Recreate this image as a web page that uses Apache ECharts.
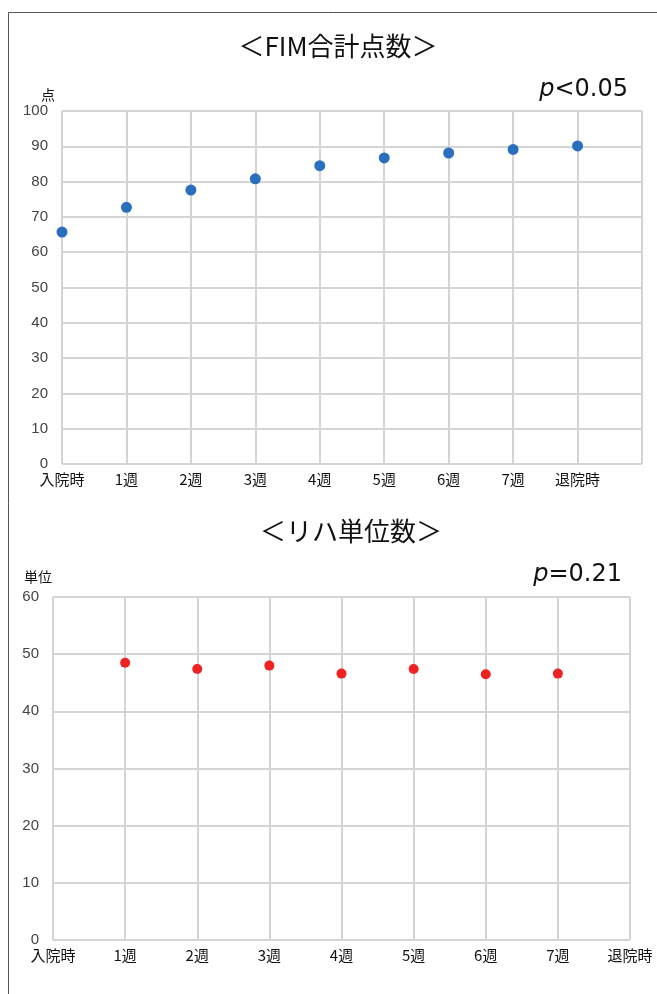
<!DOCTYPE html>
<html>
<head>
<meta charset="utf-8">
<script src="https://cdn.jsdelivr.net/npm/echarts@6/dist/echarts.min.js"></script>
<style>
  html, body { margin: 0; padding: 0; background: #fff; }
  #chart { width: 657px; height: 994px; }
</style>
</head>
<body>
<div id="chart"></div>
<script>
// Time points (admission, weekly, discharge)
const periods = ['入院時', '1週', '2週', '3週', '4週', '5週', '6週', '7週', '退院時'];

// FIM total score at each time point
const fimScores = [65.7, 72.7, 77.6, 80.8, 84.5, 86.7, 88.1, 89.1, 90.1];

// Rehabilitation units per week (no value at admission / discharge)
const rehabUnits = [null, 48.5, 47.4, 48.0, 46.6, 47.4, 46.5, 46.6, null];

// Panel headings and annotations
const fimTitle = '＜FIM合計点数＞';
const rehabTitle = '＜リハ単位数＞';
const fimUnit = '点';
const rehabUnit = '単位';
const fimP = '<0.05';
const rehabP = '=0.21';

const toPoints = vals => vals
  .map((v, i) => (v == null ? null : [i, v]))
  .filter(p => p !== null);

const gridColor = '#d4d4d4';
const cjkFont = '"Noto Sans CJK JP", "Noto Sans", sans-serif';

function xAxisFor(gridIndex, max) {
  return {
    type: 'value', gridIndex, min: 0, max, interval: 1,
    axisLine: { show: false },
    axisTick: { show: false },
    splitLine: { show: true, lineStyle: { color: gridColor, width: 2 } },
    axisLabel: {
      margin: 8,
      color: '#111',
      fontSize: 15,
      fontFamily: cjkFont,
      formatter: v => periods[v] || ''
    }
  };
}

function yAxisFor(gridIndex, max) {
  return {
    type: 'value', gridIndex, min: 0, max, interval: 10,
    axisLine: { show: false },
    axisTick: { show: false },
    splitLine: { show: true, lineStyle: { color: gridColor, width: 2 } },
    axisLabel: {
      margin: 14,
      color: '#444',
      fontSize: 15,
      fontFamily: '"Liberation Sans", Arial, sans-serif'
    }
  };
}

const chart = echarts.init(document.getElementById('chart'), null, { renderer: 'canvas' });

chart.setOption({
  animation: false,
  backgroundColor: '#fff',
  grid: [
    { left: 62, right: 15, top: 111, bottom: 530 },
    { left: 53, right: 27, top: 597, bottom: 54 }
  ],
  xAxis: [xAxisFor(0, 9), xAxisFor(1, 8)],
  yAxis: [yAxisFor(0, 100), yAxisFor(1, 60)],
  series: [
    {
      type: 'scatter', xAxisIndex: 0, yAxisIndex: 0,
      symbolSize: 11,
      itemStyle: { color: '#2a6fbd', opacity: 1 },
      data: toPoints(fimScores)
    },
    {
      type: 'scatter', xAxisIndex: 1, yAxisIndex: 1,
      symbolSize: 10,
      itemStyle: { color: '#ee2222', opacity: 1 },
      data: toPoints(rehabUnits)
    }
  ],
  graphic: [
    {
      type: 'rect', silent: true,
      shape: { x: 8.5, y: 12.5, width: 700, height: 1000 },
      style: { fill: null, stroke: '#555', lineWidth: 1 }
    },
    {
      type: 'text', x: 338, y: 46,
      style: {
        text: fimTitle, fill: '#111', font: '26px ' + cjkFont,
        textAlign: 'center', textVerticalAlign: 'middle'
      }
    },
    {
      type: 'text', x: 351, y: 531,
      style: {
        text: rehabTitle, fill: '#111', font: '26px ' + cjkFont,
        textAlign: 'center', textVerticalAlign: 'middle'
      }
    },
    {
      type: 'text', x: 48, y: 95,
      style: {
        text: fimUnit, fill: '#111', font: '14px ' + cjkFont,
        textAlign: 'center', textVerticalAlign: 'middle'
      }
    },
    {
      type: 'text', x: 38, y: 577,
      style: {
        text: rehabUnit, fill: '#111', font: '14px ' + cjkFont,
        textAlign: 'center', textVerticalAlign: 'middle'
      }
    },
    {
      type: 'text', x: 628, y: 90,
      style: {
        text: '{i|p}' + fimP,
        fill: '#111', font: '24px "DejaVu Sans", sans-serif',
        textAlign: 'right', textVerticalAlign: 'middle',
        rich: { i: { fontStyle: 'italic', fontSize: 24, fontFamily: '"DejaVu Sans", sans-serif' } }
      }
    },
    {
      type: 'text', x: 622, y: 575,
      style: {
        text: '{i|p}' + rehabP,
        fill: '#111', font: '24px "DejaVu Sans", sans-serif',
        textAlign: 'right', textVerticalAlign: 'middle',
        rich: { i: { fontStyle: 'italic', fontSize: 24, fontFamily: '"DejaVu Sans", sans-serif' } }
      }
    }
  ]
});
</script>
</body>
</html>
